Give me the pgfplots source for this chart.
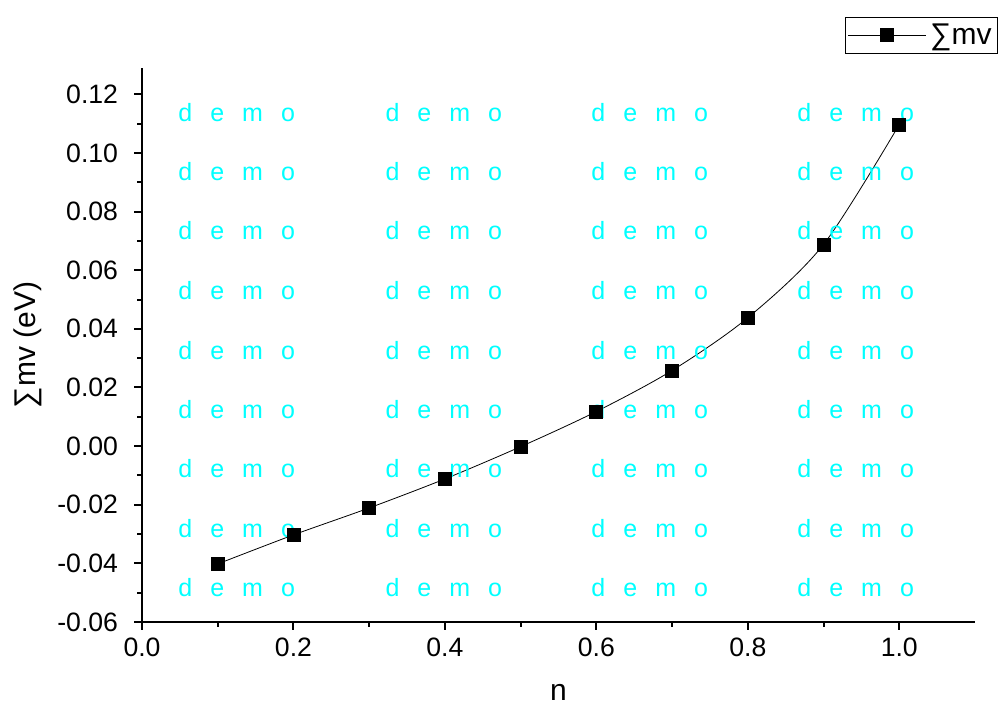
\documentclass[border=0pt]{standalone}
\usepackage{fontspec}
\setmainfont{Liberation Sans}
\usepackage{pgfplots}
\pgfplotsset{compat=1.18}
\definecolor{democyan}{RGB}{0,255,255}
\newcommand{\demo}{d\hspace{9bp}e\hspace{9bp}m\hspace{9bp}o}

\begin{document}
\begin{tikzpicture}
\begin{axis}[
  scale only axis, width=416.5bp, height=277bp,
  xmin=0, xmax=1.1, ymin=-0.06, ymax=0.129,
  axis x line=bottom, axis y line=left,
  axis line style={-, line width=1bp},
  xtick={0,0.2,0.4,0.6,0.8,1.0},
  xticklabels={0.0,0.2,0.4,0.6,0.8,1.0},
  ytick={-0.06,-0.04,-0.02,0,0.02,0.04,0.06,0.08,0.10,0.12},
  yticklabels={-0.06,-0.04,-0.02,0.00,0.02,0.04,0.06,0.08,0.10,0.12},
  minor x tick num=1, minor y tick num=1,
  tick align=outside, major tick length=4bp, minor tick length=2.5bp,
  every tick/.style={line width=1bp, black},
  tick label style={font=\fontsize{13.3bp}{15bp}\selectfont},
  xticklabel style={yshift=-0.5bp},
  yticklabel style={xshift=-4.5bp},
  xlabel={n}, ylabel={∑mv (eV)},
  xlabel style={at={(rel axis cs:0.5,-0.128)}, anchor=center, font=\fontsize{15bp}{17bp}\selectfont},
  ylabel style={at={(rel axis cs:-0.137,0.5)}, anchor=center, rotate=0, font=\fontsize{15bp}{17bp}\selectfont},
  clip=false,
  legend style={at={(rel axis cs:1.0276,1.092)}, anchor=north east,
    draw=black, line width=0.5bp, font=\fontsize{15bp}{17bp}\selectfont,
    inner sep=1bp},
  legend image code/.code={\draw[mark repeat=2,mark phase=2,#1] plot coordinates {(0bp,0bp)(19.5bp,0bp)(39bp,0bp)};},
]
\path (rel axis cs:-0.1705,-0.157) rectangle (rel axis cs:1.0312,1.1227);
\addplot[black, line width=0.4bp, smooth, mark=square*, mark size=3.25bp,
  mark options={solid, fill=black}]
  coordinates {
  (0.1,-0.0402)
  (0.2,-0.0303)
  (0.3,-0.0211)
  (0.4,-0.0112)
  (0.5,-0.0002)
  (0.6,0.0118)
  (0.7,0.0258)
  (0.8,0.0438)
  (0.9,0.0688)
  (1.0,0.1097)
  };
\addlegendentry{∑mv}
\pgfplotsinvokeforeach{0.1138,0.0937,0.0735,0.0530,0.0326,0.0124,-0.0077,-0.0282,-0.0484}{
  \node[anchor=west, inner sep=0pt, text=democyan, font=\fontsize{12.5bp}{15bp}\selectfont] at (axis cs:0.0476,#1) {\demo};
  \node[anchor=west, inner sep=0pt, text=democyan, font=\fontsize{12.5bp}{15bp}\selectfont] at (axis cs:0.321,#1) {\demo};
  \node[anchor=west, inner sep=0pt, text=democyan, font=\fontsize{12.5bp}{15bp}\selectfont] at (axis cs:0.593,#1) {\demo};
  \node[anchor=west, inner sep=0pt, text=democyan, font=\fontsize{12.5bp}{15bp}\selectfont] at (axis cs:0.865,#1) {\demo};
}
\end{axis}
\end{tikzpicture}
\end{document}
